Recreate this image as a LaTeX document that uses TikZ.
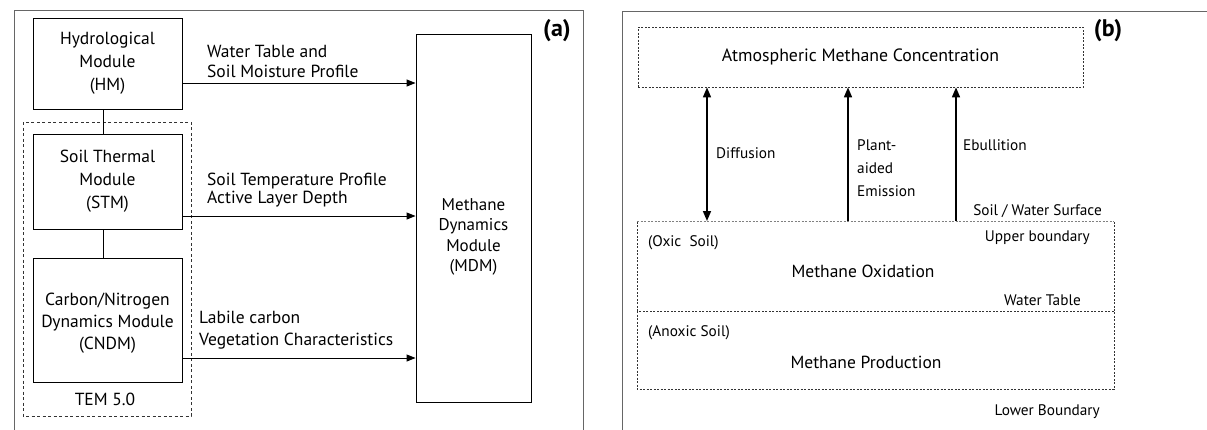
\documentclass[tikz,border=0pt]{standalone}
\usepackage{fontspec}
\setmainfont{PT Sans}
\usetikzlibrary{arrows.meta}
\begin{document}
\begin{tikzpicture}[x=1pt,y=-1pt,
  font=\fontsize{17.5}{23}\selectfont,
  frame/.style={draw=black!60, line width=0.8pt},
  modbox/.style={draw=black, line width=0.9pt},
  tembox/.style={draw=black!80, line width=0.9pt, dash pattern=on 3pt off 2.5pt},
  finedash/.style={draw=black!80, line width=0.8pt, dash pattern=on 2pt off 1.5pt},
  softdash/.style={draw=black!50, line width=0.8pt, dash pattern=on 2pt off 1.5pt},
  arr/.style={draw=black, line width=1pt, -{Triangle[length=9pt,width=7pt]}},
  darr/.style={draw=black, line width=1.6pt, {Triangle[length=10pt,width=8pt]}-{Triangle[length=10pt,width=8pt]}},
  uarr/.style={draw=black, line width=1.6pt, -{Triangle[length=10pt,width=8pt]}},
  lab/.style={inner sep=0pt, align=left},
  blab/.style={inner sep=0pt, align=left, font=\fontsize{15.3}{23}\selectfont},
  ctr/.style={inner sep=0pt, align=center},
  tag/.style={inner sep=0pt, font=\fontsize{24}{26}\selectfont\bfseries}
]
\useasboundingbox (0,0) rectangle (1207,429);
% Panel (a)
\draw[frame] (14,440) -- (14,10) -- (583,10) -- (583,440);
\node[tag] (taga) at (557,31) {(a)};
\draw[tembox] (23,122) rectangle (191,416);
\node[modbox, minimum width=149pt, minimum height=91pt, inner sep=0pt] (hm) at (107.5,63.5) {};
\node[ctr] at (hm.center) {Hydrological\\Module\\(HM)};
\node[modbox, minimum width=149pt, minimum height=95pt, inner sep=0pt] (stm) at (107.5,181.5) {};
\node[ctr] at (stm.center) {Soil Thermal\\Module\\(STM)};
\node[modbox, minimum width=149pt, minimum height=124pt, inner sep=0pt] (cndm) at (107.5,320) {};
\node[ctr, font=\fontsize{17.5}{22}\selectfont] at (107.5,323) {Carbon/Nitrogen\\Dynamics Module\\(CNDM)};
\node[ctr] (tem) at (105,399) {TEM 5.0};
\node[modbox, minimum width=115pt, minimum height=368pt, inner sep=0pt] (mdm) at (473.5,218) {};
\node[ctr, font=\fontsize{17}{20.5}\selectfont] at (473.5,237) {Methane\\Dynamics\\Module\\(MDM)};
\draw (hm.south -| 103,0) -- (stm.north -| 103,0);
\draw (stm.south -| 103,0) -- (cndm.north -| 103,0);
\coordinate (h1) at (182,83);
\coordinate (s1) at (182,216);
\coordinate (c1) at (182,358);
\draw[arr] (h1) -- (h1 -| mdm.west);
\draw[arr] (s1) -- (s1 -| mdm.west);
\draw[arr] (c1) -- (c1 -| mdm.west);
\node[lab, anchor=base west] (l1) at (207,57) {Water Table and};
\node[lab, anchor=base west] (l2) at (207,77) {Soil Moisture Profile};
\node[lab, anchor=base west] (l3) at (207,185) {Soil Temperature Profile};
\node[lab, anchor=base west] (l4) at (207,203) {Active Layer Depth};
\node[lab, anchor=base west] (l5) at (199,323) {Labile carbon};
\node[lab, anchor=base west] (l6) at (199,345) {Vegetation Characteristics};
% Panel (b)
\draw[frame] (622,440) -- (622,11) -- (1220,11);
\node[tag] (tagb) at (1108,31) {(b)};
\node[finedash, minimum width=445pt, minimum height=60pt, inner sep=0pt] (atm) at (860.5,57) {};
\node[ctr, font=\fontsize{17.8}{20}\selectfont] at (atm.center) {Atmospheric Methane Concentration};
\draw[finedash] (637,311) -- (637,389) -- (1114,389) -- (1114,311) -- cycle;
\draw[finedash] (637,311) -- (637,221);
\draw[finedash] (1114,311) -- (1114,221);
\draw[softdash] (637,221) -- (1114,221);
\coordinate (d0) at (707,221);
\coordinate (p0) at (848,221);
\coordinate (e0) at (956,221);
\draw[darr] (d0) -- (d0 |- atm.south);
\draw[uarr] (p0) -- (p0 |- atm.south);
\draw[uarr] (e0) -- (e0 |- atm.south);
\node[blab, anchor=west] (ldif) at (716,153) {Diffusion};
\node[blab, anchor=west] (lpl) at (857,168) {Plant-\\aided\\Emission};
\node[blab, anchor=west] (lebu) at (963,145) {Ebullition};
\node[blab, anchor=east] (lsw) at (1102,211) {Soil / Water Surface};
\node[blab, anchor=west] (lox) at (648,243) {(Oxic~~Soil)};
\node[blab, anchor=east] (lub) at (1090,238) {Upper boundary};
\node[ctr, font=\fontsize{17.5}{20}\selectfont] (mox) at (863,271) {Methane Oxidation};
\node[blab, anchor=east] (lwt) at (1081,300) {Water Table};
\node[blab, anchor=west] (lan) at (648,333) {(Anoxic Soil)};
\node[ctr, font=\fontsize{17.5}{20}\selectfont] (mpr) at (866,362) {Methane Production};
\node[blab, anchor=east] (llb) at (1100,412) {Lower Boundary};
\end{tikzpicture}
\end{document}
